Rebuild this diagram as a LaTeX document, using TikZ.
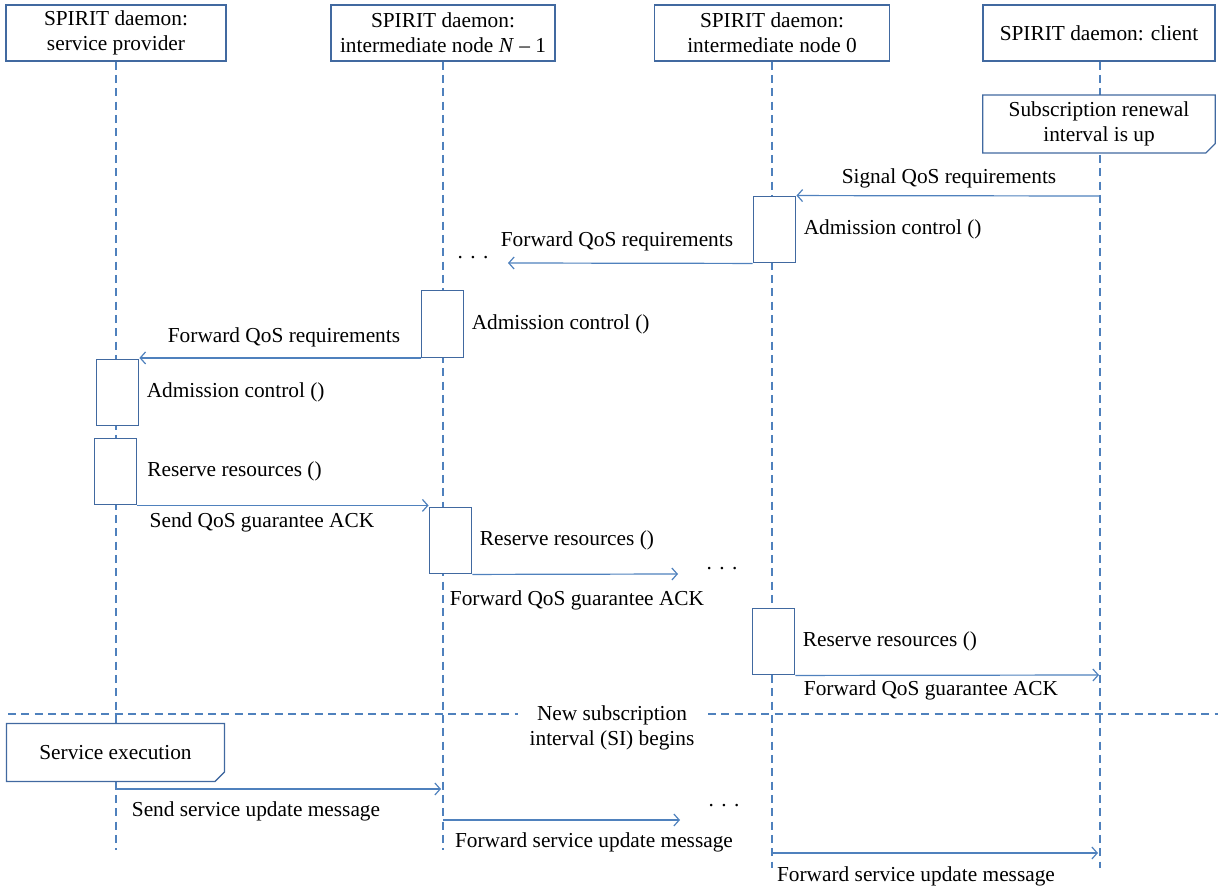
\documentclass[tikz,border=0pt]{standalone}
\usepackage{fontspec}
\setmainfont{Liberation Serif}
\usetikzlibrary{arrows.meta,positioning}
\definecolor{lineblue}{RGB}{79,129,189}
\definecolor{boxblue}{RGB}{65,105,160}
\definecolor{foldblue}{RGB}{200,215,235}
\tikzset{
  >={Straight Barb[length=4pt,width=9pt]},
  actor/.style={draw=boxblue,line width=0.9pt,fill=white,minimum width=168pt,
    minimum height=42pt,align=center,inner sep=0pt},
  activ/.style={draw=boxblue,line width=0.9pt,fill=white,minimum width=32pt,
    minimum height=50pt,inner sep=0pt},
  life/.style={draw=lineblue,line width=0.8pt,dash pattern=on 6pt off 4pt},
  msg/.style={->,draw=lineblue,line width=0.9pt},
  tag/.style={align=center},
  note/.style={fill=white,minimum height=43pt,align=center,inner sep=0pt},
}
% note outline with a folded corner
\newcommand{\foldnote}[1]{%
  \draw[boxblue,line width=0.9pt] (#1.north west) -- (#1.north east)
    -- ([yshift=7pt]#1.south east) -- ([xshift=-7pt]#1.south east) -- (#1.south west) -- cycle;
  \draw[boxblue,fill=foldblue,line width=0.6pt] ([yshift=7pt]#1.south east)
    -- ([xshift=-5pt,yshift=2pt]#1.south east) -- ([xshift=-7pt]#1.south east) -- cycle;
}
\newcommand{\skipdots}{.\hspace{0.35em}.\hspace{0.35em}.}

\begin{document}
\begin{tikzpicture}[x=0.75pt,y=-0.75pt,font=\fontsize{16}{18.75}\selectfont]
  \useasboundingbox (0,0) rectangle (1220,892);

  % actors
  \node[actor,minimum width=165pt] (prov) at (116,33) {SPIRIT daemon:\\service provider};
  \node[actor] (nlast) at (443,33) {SPIRIT daemon:\\intermediate node \textit{N} -- 1};
  \node[actor,minimum width=176pt] (nzero) at (772,33) {SPIRIT daemon:\\intermediate node 0};
  \node[actor,minimum width=174pt] (client) at (1099,33) {SPIRIT daemon: client};

  % lifelines
  \coordinate (provend) at (116,850);
  \coordinate (nlastend) at (443,850);
  \coordinate (nzeroend) at (772,868);
  \coordinate (clientend) at (1100,868);
  \draw[life] (prov.south) -- (provend);
  \draw[life] (nlast.south) -- (nlastend);
  \draw[life] (nzero.south) -- (nzeroend);
  \draw[life] ([xshift=0.75pt]client.south) -- (clientend);

  % new interval divider
  \node[tag] (si) at (612,728) {New subscription\\interval (SI) begins};
  \coordinate (div0) at (8,714);
  \coordinate (div1) at (518,714);
  \coordinate (div2) at (708,714);
  \coordinate (div3) at (1218,714);
  \draw[life] (div0) -- (div1);
  \draw[life] (div2) -- (div3);

  % notes
  \node[note,minimum width=174pt] (renew) at (1099,124) {Subscription renewal\\interval is up};
  \foldnote{renew}
  \node[note,minimum width=163pt] (exec) at (115.5,752.5) {Service execution};
  \foldnote{exec}

  % activations
  \node[activ] (adm0) at (774.5,229.5) {};
  \node[activ] (adm1) at (442.5,324) {};
  \node[activ] (adm2) at (117.5,392.5) {};
  \node[activ] (res2) at (115.5,471.5) {};
  \node[activ] (res1) at (450.5,540.5) {};
  \node[activ] (res0) at (773.5,641.5) {};
  \node[right=2pt of adm0] (adm0l) {Admission control ()};
  \node[right=2pt of adm1] (adm1l) {Admission control ()};
  \node[right=2pt of adm2] (adm2l) {Admission control ()};
  \node[right=4pt of res2] (res2l) {Reserve resources ()};
  \node[right=2pt of res1] (res1l) {Reserve resources ()};
  \node[right=2pt of res0] (res0l) {Reserve resources ()};

  % messages: QoS request
  \coordinate (sig) at (1100,196);
  \coordinate (fq0) at (508,263);
  \draw[msg] (sig) -- (adm0.north east);
  \node[tag] (sigl) at (949,178) {Signal QoS requirements};
  \draw[msg] (adm0.south west) -- (fq0);
  \node[tag] (fq0l) at (617,241) {Forward QoS requirements};
  \node (dots0) at (473,258) {\skipdots};
  \draw[msg] (adm1.south west) -- (adm1.south west -| adm2.north east);
  \node[tag] (fq1l) at (284,337) {Forward QoS requirements};

  % messages: guarantee ACK
  \coordinate (fa1) at (678,574);
  \coordinate (fa0) at (1099,675);
  \draw[msg] (res2.south east) -- (res2.south east -| res1.north west);
  \node[tag] (ackl) at (262,522) {Send QoS guarantee ACK};
  \draw[msg] (res1.south east) -- (fa1);
  \node[tag] (fa1l) at (577,600) {Forward QoS guarantee ACK};
  \node (dots1) at (722,569) {\skipdots};
  \draw[msg] (res0.south east) -- (fa0);
  \node[tag] (fa0l) at (931,690) {Forward QoS guarantee ACK};

  % messages: service update
  \coordinate (su0) at (116,789);
  \coordinate (su1) at (441,789);
  \coordinate (fu0) at (443,820);
  \coordinate (fu1) at (680,820);
  \coordinate (fu2) at (772,853);
  \coordinate (fu3) at (1098,853);
  \draw[msg] (su0) -- (su1);
  \node[tag] (sul) at (256,811) {Send service update message};
  \draw[msg] (fu0) -- (fu1);
  \node[tag] (fu1l) at (594,842) {Forward service update message};
  \node (dots2) at (724,806) {\skipdots};
  \draw[msg] (fu2) -- (fu3);
  \node[tag] (fu3l) at (916,876) {Forward service update message};
\end{tikzpicture}
\end{document}
